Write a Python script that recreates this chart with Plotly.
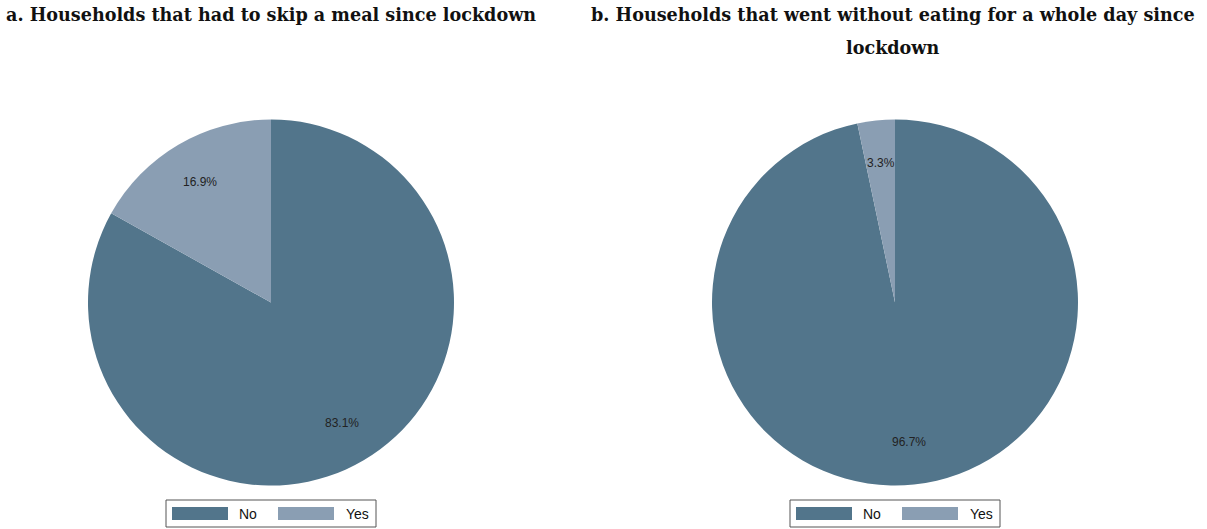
import math
import plotly.graph_objects as go

W, H = 1207, 529

labels = ["No", "Yes"]
values_a = [83.1, 16.9]
values_b = [96.7, 3.3]
colors = ["#52758b", "#8a9eb3"]
title_a = "a. Households that had to skip a meal since lockdown"
title_b_lines = ["b. Households that went without eating for a whole day since", "lockdown"]

# pie geometry (screen pixels)
CY, R = 302.5, 183
centers = [271, 895]


def px(x):
    return x / W


def py(y):
    return 1 - y / H


fig = go.Figure()
annotations = []
shapes = []

for cx, vals in zip(centers, [values_a, values_b]):
    fig.add_trace(go.Pie(
        labels=labels, values=vals, sort=False, direction="clockwise", rotation=0,
        marker=dict(colors=colors, line=dict(width=0)),
        textinfo="none", hoverinfo="label+percent", showlegend=False,
        domain=dict(x=[px(cx - R), px(cx + R)], y=[py(CY + R), py(CY - R)]),
    ))
    total = sum(vals)
    cum = 0
    for v in vals:
        mid = (cum + v / 2) / total * 2 * math.pi
        cum += v
        lx = cx + 0.765 * R * math.sin(mid)
        ly = CY - 0.765 * R * math.cos(mid)
        annotations.append(dict(
            x=px(lx), y=py(ly), xref="paper", yref="paper", showarrow=False,
            text=f"{v / total * 100:.1f}%", font=dict(family="Liberation Sans, Arial", size=12, color="#222"),
            xanchor="center", yanchor="middle"))
    # legend box
    L, T, B = cx - 105, 500, 527
    shapes.append(dict(type="rect", xref="paper", yref="paper", x0=px(L), x1=px(L + 210),
                       y0=py(B), y1=py(T), line=dict(color="#555", width=1), fillcolor="white"))
    offs = [(6, 71), (112, 178)]
    for (so, to), lab, col in zip(offs, labels, colors):
        shapes.append(dict(type="rect", xref="paper", yref="paper", x0=px(L + so), x1=px(L + so + 56),
                           y0=py(520), y1=py(507), line=dict(width=0), fillcolor=col))
        annotations.append(dict(x=px(L + to), y=py(514), xref="paper", yref="paper", showarrow=False,
                                text=lab, xanchor="left", yanchor="middle",
                                font=dict(family="Liberation Sans, Arial", size=14, color="#111")))

tfont = dict(family="DejaVu Serif", size=17.6, color="#111")
annotations.append(dict(x=px(271), y=py(14.5), xref="paper", yref="paper", showarrow=False, borderpad=0,
                        text=f"<b>{title_a}</b>", font=tfont, xanchor="center", yanchor="middle"))
for i, line in enumerate(title_b_lines):
    annotations.append(dict(x=px(893), y=py(14.5 + 33 * i), xref="paper", yref="paper", showarrow=False,
                            borderpad=0, text=f"<b>{line}</b>", font=tfont,
                            xanchor="center", yanchor="middle"))

fig.update_layout(width=W, height=H, margin=dict(l=0, r=0, t=0, b=0),
                  paper_bgcolor="white", plot_bgcolor="white",
                  annotations=annotations, shapes=shapes)
fig.write_html("out.html", config={"displayModeBar": False},
               post_script="document.body.style.margin='0';document.body.style.overflow='hidden';")
